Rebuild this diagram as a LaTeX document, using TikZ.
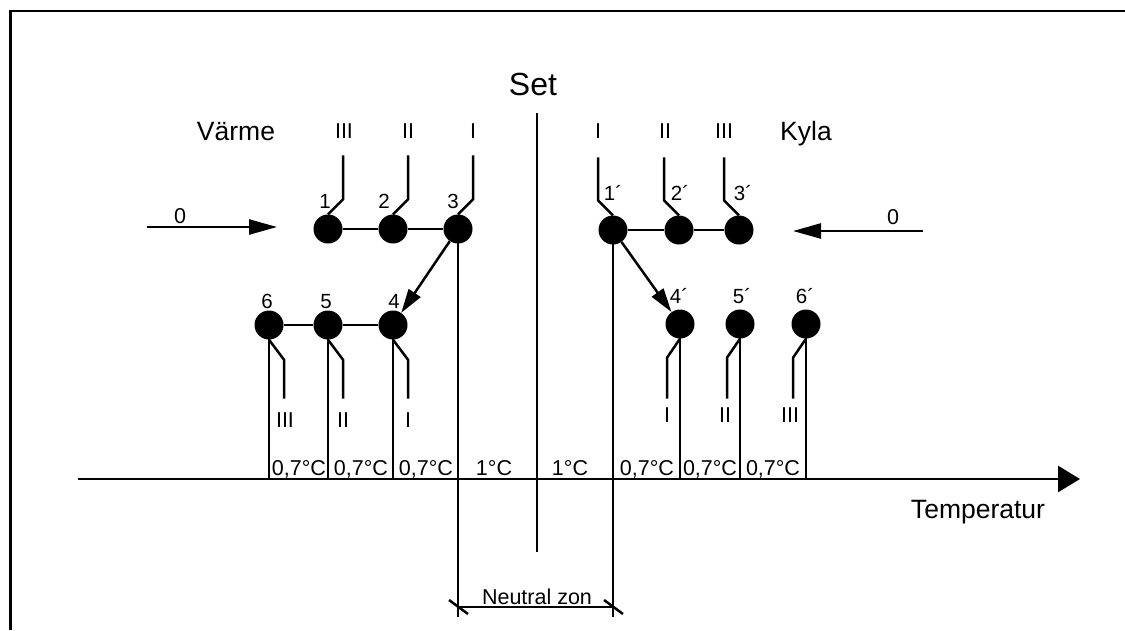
\documentclass[tikz,border=0pt]{standalone}
\usepackage{fontspec}
\setmainfont{Liberation Sans}
\usetikzlibrary{arrows.meta}
\begin{document}
\begin{tikzpicture}[x=1pt,y=-1pt,
  ln/.style={line width=2.5pt},
  dot/.style={circle,fill=black,draw=none,minimum size=29pt,inner sep=0pt},
  sm/.style={inner sep=0pt,anchor=base,font=\fontsize{21.5}{26}\selectfont},
  num/.style={inner sep=0pt,anchor=base,font=\fontsize{20.5}{25}\selectfont},
  big/.style={inner sep=0pt,anchor=base,font=\fontsize{26.5}{32}\selectfont},
  bigarrow/.style={ln,-{Triangle[length=28pt,width=15pt]}},
  steparrow/.style={ln,-{Triangle[length=24pt,width=14pt]}}
]
\useasboundingbox (0,0) rectangle (1125,630);
% frame
\draw[line width=2.8pt] (10.5,630) -- (10.5,11) -- (1125,11);

% coordinates
\coordinate (axL) at (78,479);
\coordinate (axR) at (1080,479);
\coordinate (nzb) at (0,617);
\coordinate (nzd) at (0,607);
\coordinate (settop) at (537,113);
\coordinate (setbot) at (537,552);

% circles
\node[dot] (c1) at (328,229) {};
\node[dot] (c2) at (393,229) {};
\node[dot] (c3) at (458,229) {};
\node[dot] (c4) at (393,325) {};
\node[dot] (c5) at (328,325) {};
\node[dot] (c6) at (269,325) {};
\node[dot] (d1) at (613,230) {};
\node[dot] (d2) at (679,230) {};
\node[dot] (d3) at (739,230) {};
\node[dot] (d4) at (680,324) {};
\node[dot] (d5) at (740,324) {};
\node[dot] (d6) at (806,324) {};

% axis
\draw[line width=2.8pt,-{Triangle[length=22pt,width=26pt]}] (axL) -- (axR);
\node[big] (temp) at (978,518) {Temperatur};

% set line
\draw[ln] (settop) -- (setbot);
\node[inner sep=0pt,anchor=base,font=\fontsize{32}{38}\selectfont] (set) at (533,95) {Set};

% connections between circles
\draw[ln] (c1) -- (c2) -- (c3);
\draw[ln] (c6) -- (c5) -- (c4);
\draw[ln] (d1) -- (d2) -- (d3);

% switches top
\foreach \n in {c1,c2,c3} {\draw[ln] (\n.north) -- ++(15,-15) -- ++(0,-44);}
\foreach \n in {d1,d2,d3} {\draw[ln] (\n.north) -- ++(-15,-15) -- ++(0,-43);}
% switches bottom
\foreach \n in {c4,c5,c6} {\draw[ln] (\n.south) -- ++(15,20) -- ++(0,39);}
\foreach \n in {d4,d5,d6} {\draw[ln] (\n.south) -- ++(-13,19) -- ++(0,41);}

% verticals to axis
\foreach \n in {c4,c5,c6,d4,d5,d6} {\draw[ln] (\n.center) -- (\n.center |- axL);}
% neutral zone lines
\draw[ln] (c3.center) -- (c3.center |- nzb);
\draw[ln] (d1.center) -- (d1.center |- nzb);
\coordinate (nzl) at (c3.center |- nzd);
\coordinate (nzr) at (d1.center |- nzd);
\draw[ln] (nzl) -- (nzr);
\draw[ln] ([shift={(-9,-7)}]nzl) -- ([shift={(10,7)}]nzl);
\draw[ln] ([shift={(-9,-7)}]nzr) -- ([shift={(10,7)}]nzr);
\node[sm] (nz) at (537,604) {Neutral zon};

% step arrows
\draw[steparrow] (c3) -- (c4);
\draw[steparrow] (d1) -- (d4);

% zero arrows
\coordinate (zl0) at (147,227);
\coordinate (zl1) at (277,227);
\coordinate (zr0) at (923,231);
\coordinate (zr1) at (793,231);
\draw[bigarrow] (zl0) -- (zl1);
\draw[bigarrow] (zr0) -- (zr1);
\node[sm] (z1) at (180,223) {0};
\node[sm] (z2) at (893,224) {0};

% headings
\node[big] (varme) at (236,140) {Värme};
\node[big] (kyla) at (806,140) {Kyla};

% top roman numerals
\node[sm] (t1) at (344,138) {III};
\node[sm] (t2) at (408,138) {II};
\node[sm] (t3) at (473,138) {I};
\node[sm] (t4) at (598,138) {I};
\node[sm] (t5) at (665,138) {II};
\node[sm] (t6) at (724,138) {III};

% circle numbers
\node[num] (n1) at (325,208) {1};
\node[num] (n2) at (384,208) {2};
\node[num] (n3) at (453,208) {3};
\node[num] (m1) at (613,200) {1´};
\node[num] (m2) at (680,200) {2´};
\node[num] (m3) at (743,200) {3´};
\node[num] (n6) at (267,308) {6};
\node[num] (n5) at (326,308) {5};
\node[num] (n4) at (394,308) {4};
\node[num] (m4) at (679,303) {4´};
\node[num] (m5) at (742,303) {5´};
\node[num] (m6) at (805,303) {6´};

% bottom roman numerals
\node[sm] (b1) at (285,427) {III};
\node[sm] (b2) at (343,427) {II};
\node[sm] (b3) at (408,427) {I};
\node[sm] (b4) at (667,422) {I};
\node[sm] (b5) at (725,422) {II};
\node[sm] (b6) at (790,422) {III};

% interval labels
\node[sm] (i1) at (299,475) {0,7°C};
\node[sm] (i2) at (361,475) {0,7°C};
\node[sm] (i3) at (426,475) {0,7°C};
\node[sm] (i4) at (494,475) {1°C};
\node[sm] (i5) at (570,475) {1°C};
\node[sm] (i6) at (647,475) {0,7°C};
\node[sm] (i7) at (710,475) {0,7°C};
\node[sm] (i8) at (773,475) {0,7°C};
\end{tikzpicture}
\end{document}
